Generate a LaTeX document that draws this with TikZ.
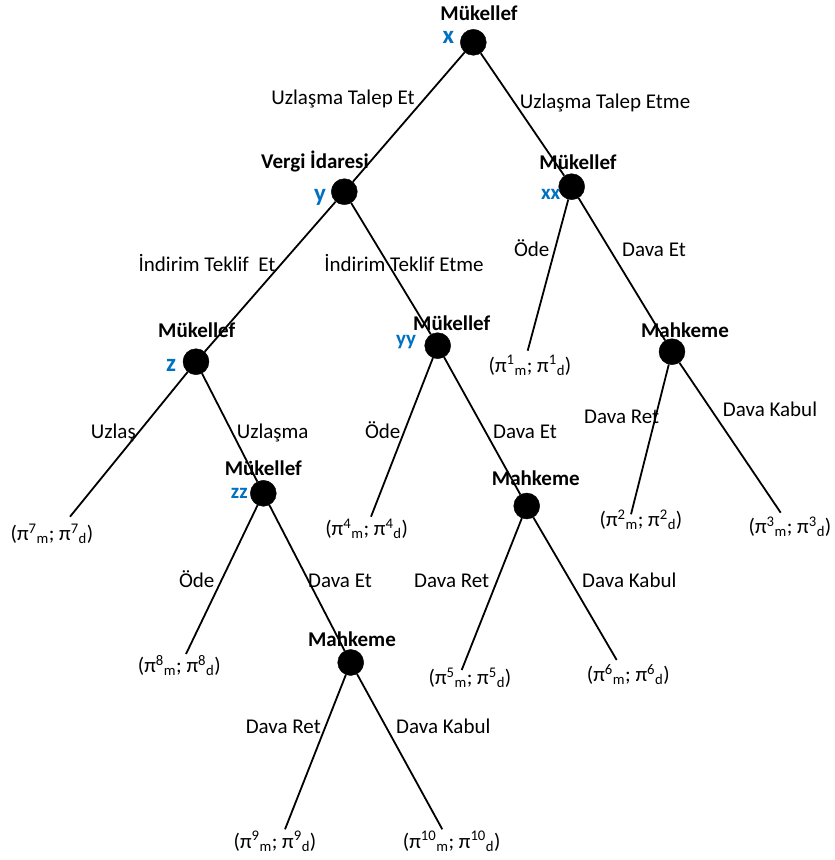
\documentclass[tikz,border=0pt]{standalone}
\usepackage{fontspec}
\setmainfont{Carlito}
\definecolor{nblue}{RGB}{0,112,192}
\newcommand\payoff[1]{(π\textsuperscript{#1}\textsubscript{m}; π\textsuperscript{#1}\textsubscript{d})}
\begin{document}
\begin{tikzpicture}[x=1pt,y=-1pt,
  dot/.style={circle,fill=black,draw=black,minimum size=26pt,inner sep=0pt},
  edge/.style={line width=1.8pt},
  lbl/.style={font=\fontsize{21}{25}\selectfont,inner sep=0pt,text height=13.5pt,text depth=0pt},
  player/.style={lbl,font=\fontsize{21}{25}\selectfont\bfseries},
  tag/.style={text=nblue,font=\fontsize{25}{30}\selectfont\bfseries,inner sep=0pt,anchor=base},
  smalltag/.style={tag,font=\fontsize{21}{25}\selectfont\bfseries},
  pay/.style={lbl}]
\useasboundingbox (0,0) rectangle (835,860);
% decision nodes
\node[dot] (root) at (473.3,42.3) {};
\node[dot] (vy) at (344.3,191.7) {};
\node[dot] (vxx) at (571.7,186.7) {};
\node[dot] (vz) at (196,361.7) {};
\node[dot] (vyy) at (437.7,345.7) {};
\node[dot] (vzz) at (263.3,493.3) {};
\node[dot] (mR) at (672,351.7) {};
\node[dot] (mM) at (526.7,506) {};
\node[dot] (mB) at (350.7,662.5) {};
% leaf ends
\coordinate (l1) at (527.7,350.7);
\coordinate (l2) at (631,514.3);
\coordinate (l3) at (780.7,512.7);
\coordinate (l7) at (70,516.7);
\coordinate (l4) at (371,516.7);
\coordinate (l5) at (461.7,670);
\coordinate (l6) at (616.7,660);
\coordinate (l8) at (186,654);
\coordinate (l9) at (285,829.3);
\coordinate (l10) at (442.3,829.3);
% edges
\draw[edge] (root) -- (vy);
\draw[edge] (root) -- (vxx);
\draw[edge] (vxx) -- (l1);
\draw[edge] (vxx) -- (mR);
\draw[edge] (mR) -- (l2);
\draw[edge] (mR) -- (l3);
\draw[edge] (vy) -- (vz);
\draw[edge] (vy) -- (vyy);
\draw[edge] (vz) -- (l7);
\draw[edge] (vz) -- (vzz);
\draw[edge] (vyy) -- (l4);
\draw[edge] (vyy) -- (mM);
\draw[edge] (mM) -- (l5);
\draw[edge] (mM) -- (l6);
\draw[edge] (vzz) -- (l8);
\draw[edge] (vzz) -- (mB);
\draw[edge] (mB) -- (l9);
\draw[edge] (mB) -- (l10);
% player names
\node[player] (nroot) at (479,14) {Mükellef};
\node[player] (nvy) at (315,161.7) {Vergi İdaresi};
\node[player] (nvxx) at (578,162.7) {Mükellef};
\node[player] (nvz) at (196.7,330.7) {Mükellef};
\node[player] (nvyy) at (451.7,323.3) {Mükellef};
\node[player] (nvzz) at (263.3,468.3) {Mükellef};
\node[player] (nmR) at (685,331) {Mahkeme};
\node[player] (nmM) at (535.8,478.3) {Mahkeme};
\node[player] (nmB) at (352,639.3) {Mahkeme};
% blue tags
\node[tag] (tx) at (448.3,43.3) {x};
\node[tag] (ty) at (320,201.7) {y};
\node[tag] (tz) at (171,371.7) {z};
\node[smalltag] (txx) at (550.7,199.3) {xx};
\node[smalltag] (tyy) at (406,345) {yy};
\node[smalltag] (tzz) at (239.3,498.3) {zz};
% edge labels
\node[lbl] (e1) at (343,98) {Uzlaşma Talep Et};
\node[lbl] (e2) at (605,102) {Uzlaşma Talep Etme};
\node[lbl] (e3) at (207,265) {İndirim Teklif~~Et};
\node[lbl] (e4) at (404,265) {İndirim Teklif Etme};
\node[lbl] (e5) at (531.7,250) {Öde};
\node[lbl] (e6) at (654,250) {Dava Et};
\node[lbl] (e7) at (113.3,431.7) {Uzlaş};
\node[lbl] (e8) at (272.7,431.7) {Uzlaşma};
\node[lbl] (e9) at (382.7,431.7) {Öde};
\node[lbl] (e10) at (525,431.7) {Dava Et};
\node[lbl] (e11) at (621.7,416.7) {Dava Ret};
\node[lbl] (e12) at (770,409.3) {Dava Kabul};
\node[lbl] (e13) at (196.7,580.7) {Öde};
\node[lbl] (e14) at (340,580.7) {Dava Et};
\node[lbl] (e15) at (451.7,580.7) {Dava Ret};
\node[lbl] (e16) at (629.3,580.7) {Dava Kabul};
\node[lbl] (e17) at (283.3,726.7) {Dava Ret};
\node[lbl] (e18) at (443.3,726.7) {Dava Kabul};
% payoffs
\node[pay] (p1) at (530,365.7) {\payoff{1}};
\node[pay] (p2) at (641,520) {\payoff{2}};
\node[pay] (p3) at (790,527) {\payoff{3}};
\node[pay] (p4) at (366.7,529) {\payoff{4}};
\node[pay] (p5) at (470,678) {\payoff{5}};
\node[pay] (p6) at (628.3,675) {\payoff{6}};
\node[pay] (p7) at (52,534) {\payoff{7}};
\node[pay] (p8) at (179.3,666) {\payoff{8}};
\node[pay] (p9) at (275,841.7) {\payoff{9}};
\node[pay] (p10) at (451.7,841.7) {\payoff{10}};
\end{tikzpicture}
\end{document}
